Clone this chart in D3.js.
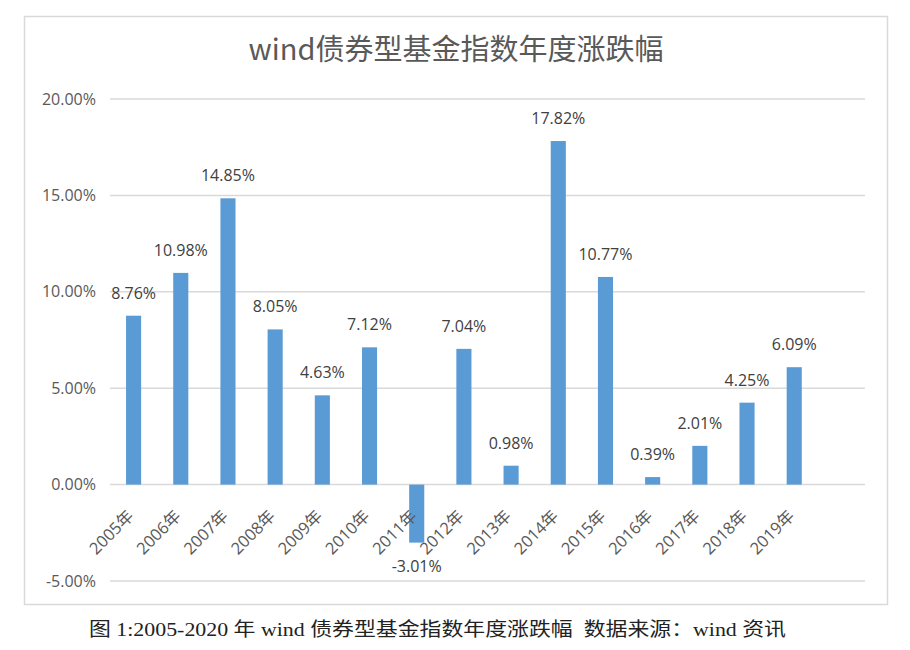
<!DOCTYPE html>
<html>
<head>
<meta charset="utf-8">
<script src="https://cdn.jsdelivr.net/npm/d3@7"></script>
<style>
  html, body { margin: 0; padding: 0; background: #fff; }
  svg { display: block; }
</style>
</head>
<body>
<svg id="chart" width="910" height="650"></svg>
<script>
const years = ["2005年","2006年","2007年","2008年","2009年","2010年","2011年","2012年","2013年","2014年","2015年","2016年","2017年","2018年","2019年"];
const values = [8.76, 10.98, 14.85, 8.05, 4.63, 7.12, -3.01, 7.04, 0.98, 17.82, 10.77, 0.39, 2.01, 4.25, 6.09];
const yTicks = [-5, 0, 5, 10, 15, 20];
const titleText = "wind债券型基金指数年度涨跌幅";
const captionText = "图 1:2005-2020 年 wind 债券型基金指数年度涨跌幅  数据来源：wind 资讯";

const svg = d3.select("#chart");
const sansFont = "'Open Sans','Noto Sans CJK SC',sans-serif";
const cjkFont = "'Noto Sans CJK SC','Noto Sans',sans-serif";

// outer chart border
svg.append("rect")
  .attr("x", 24.5).attr("y", 16.5)
  .attr("width", 863).attr("height", 588)
  .attr("fill", "#fff")
  .attr("stroke", "#d9d9d9").attr("stroke-width", 1.5);

const plotLeft = 110, plotRight = 865;
// one trailing empty slot, as in the reference
const x = d3.scaleBand()
  .domain(years.concat([""]))
  .range([plotLeft, plotRight])
  .paddingInner(0.68).paddingOuter(0.34);

const y = d3.scaleLinear().domain([-5, 20]).range([581, 99]);

// gridlines
svg.append("g").selectAll("line")
  .data(yTicks)
  .join("line")
  .attr("x1", plotLeft).attr("x2", plotRight)
  .attr("y1", d => y(d)).attr("y2", d => y(d))
  .attr("stroke", "#d9d9d9").attr("stroke-width", 1.5);

// y axis labels
const yAxis = d3.axisLeft(y).tickValues(yTicks).tickSize(0).tickPadding(0)
  .tickFormat(d => d.toFixed(2) + "%");
const gy = svg.append("g").attr("transform", `translate(96,0)`).call(yAxis);
gy.select(".domain").remove();
gy.selectAll("text")
  .attr("font-family", sansFont).attr("font-size", 16)
  .attr("fill", "#595959");

// bars
svg.append("g").selectAll("rect")
  .data(values)
  .join("rect")
  .attr("x", (d, i) => x(years[i]))
  .attr("width", x.bandwidth())
  .attr("y", d => y(Math.max(0, d)))
  .attr("height", d => Math.abs(y(d) - y(0)))
  .attr("fill", "#5b9bd5");

// value labels
svg.append("g").selectAll("text")
  .data(values)
  .join("text")
  .attr("x", (d, i) => x(years[i]) + x.bandwidth() / 2)
  .attr("y", d => d >= 0 ? y(d) - 17 : y(d) + 29)
  .attr("text-anchor", "middle")
  .attr("font-family", sansFont).attr("font-size", 16)
  .attr("fill", "#404040")
  .text(d => d.toFixed(2) + "%");

// x axis labels (rotated)
svg.append("g").selectAll("text")
  .data(years)
  .join("text")
  .attr("transform", d => `translate(${x(d) + x.bandwidth() / 2 - 3},${513}) rotate(-45)`)
  .attr("text-anchor", "end")
  .attr("dy", "0.35em")
  .attr("font-family", sansFont).attr("font-size", 16.5)
  .attr("fill", "#595959")
  .text(d => d);

// title
svg.append("text")
  .attr("x", 456).attr("y", 60)
  .attr("text-anchor", "middle")
  .attr("font-family", cjkFont).attr("font-size", 29)
  .attr("fill", "#595959")
  .text(titleText);

// caption
svg.append("text")
  .attr("x", 89).attr("y", 636)
  .attr("font-family", "'Liberation Serif','Noto Sans CJK SC',serif")
  .attr("font-size", 19)
  .attr("fill", "#222")
  .style("white-space", "pre")
  .attr("textLength", 697)
  .attr("lengthAdjust", "spacingAndGlyphs")
  .text(captionText);
</script>
</body>
</html>
